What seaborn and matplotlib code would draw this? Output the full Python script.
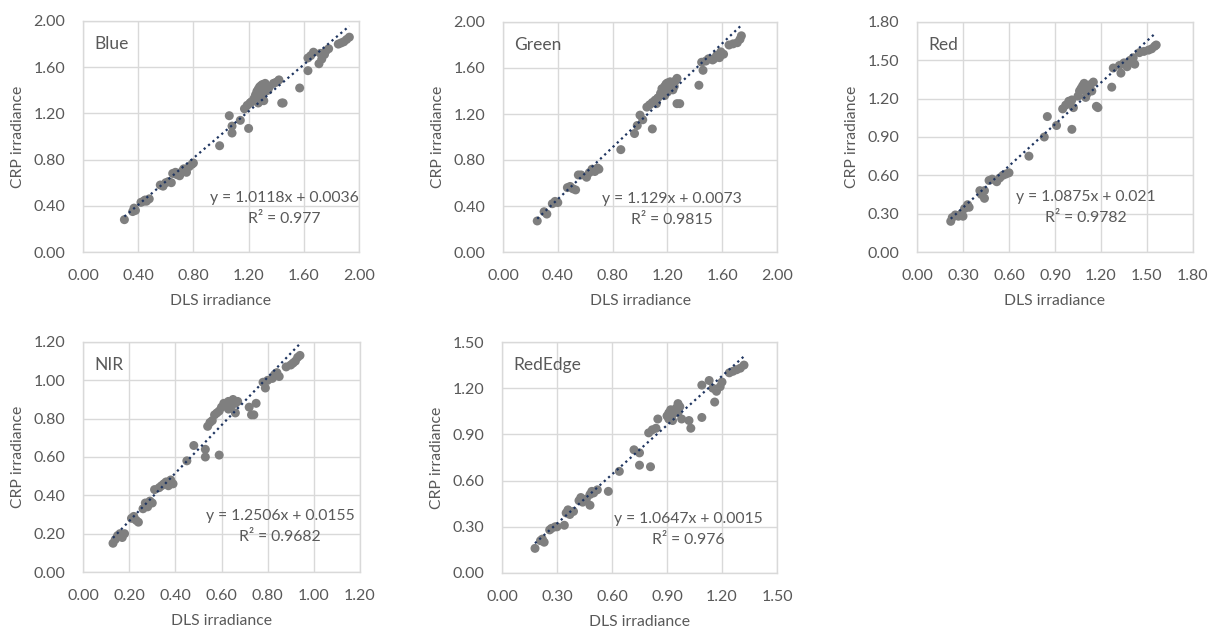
import matplotlib
matplotlib.use("Agg")
import matplotlib.pyplot as plt
import seaborn as sns
import pandas as pd

sns.set_style("white")
plt.rcParams['font.family'] = ['Lato', 'DejaVu Sans']

# ---- data ----
bands = ["Blue", "Green", "Red", "NIR", "RedEdge"]

blue_x = [0.30, 0.36, 0.37, 0.38, 0.42, 0.44, 0.45, 0.46, 0.48,
          0.56, 0.58, 0.60, 0.62, 0.64, 0.65, 0.67, 0.68,
          0.70, 0.72, 0.73, 0.75, 0.77, 0.79, 0.80,
          0.99, 1.06, 1.08, 1.08, 1.14, 1.20,
          1.17, 1.19, 1.21, 1.22, 1.24,
          1.25, 1.26, 1.27, 1.28, 1.29, 1.30, 1.31, 1.32, 1.33, 1.34, 1.35, 1.28, 1.30, 1.32, 1.29, 1.31, 1.27,
          1.38, 1.40, 1.42, 1.44, 1.45,
          1.57, 1.63, 1.63, 1.65, 1.67, 1.71, 1.73, 1.75, 1.76, 1.78, 1.72,
          1.85, 1.87, 1.89, 1.91, 1.93]
blue_y = [0.28, 0.35, 0.38, 0.36, 0.43, 0.44, 0.45, 0.44, 0.46,
          0.58, 0.57, 0.60, 0.61, 0.60, 0.68, 0.69, 0.67,
          0.66, 0.70, 0.72, 0.69, 0.74, 0.76, 0.77,
          0.92, 1.18, 1.09, 1.03, 1.14, 1.07,
          1.24, 1.27, 1.29, 1.30, 1.33,
          1.36, 1.39, 1.41, 1.43, 1.44, 1.45, 1.42, 1.46, 1.44, 1.40, 1.43, 1.38, 1.36, 1.39, 1.31, 1.31, 1.29,
          1.46, 1.47, 1.49, 1.29, 1.29,
          1.42, 1.57, 1.68, 1.70, 1.73, 1.63, 1.67, 1.71, 1.74, 1.76, 1.72,
          1.80, 1.81, 1.82, 1.84, 1.86]

green_x = [0.25, 0.30, 0.32, 0.36, 0.38, 0.40,
           0.47, 0.49, 0.51, 0.53, 0.55, 0.57,
           0.61, 0.63, 0.65, 0.67, 0.69, 0.70,
           0.86, 0.96, 0.98, 1.00, 1.02, 1.09,
           1.05, 1.07, 1.09, 1.11, 1.12, 1.13,
           1.15, 1.16, 1.17, 1.18, 1.19, 1.20, 1.21, 1.22, 1.18, 1.20, 1.22,
           1.25, 1.26, 1.27, 1.24, 1.27, 1.29,
           1.43, 1.46, 1.45, 1.48, 1.50, 1.53,
           1.54, 1.56, 1.58, 1.59, 1.61,
           1.65, 1.68, 1.71, 1.73, 1.74]
green_y = [0.27, 0.35, 0.33, 0.42, 0.44, 0.43,
           0.56, 0.57, 0.55, 0.54, 0.67, 0.67,
           0.65, 0.69, 0.72, 0.70, 0.73, 0.72,
           0.89, 1.03, 1.10, 1.19, 1.15, 1.07,
           1.26, 1.28, 1.30, 1.32, 1.29, 1.34,
           1.38, 1.42, 1.40, 1.44, 1.46, 1.47, 1.45, 1.43, 1.36, 1.39, 1.48,
           1.44, 1.49, 1.51, 1.41, 1.29, 1.29,
           1.45, 1.58, 1.65, 1.66, 1.68, 1.67,
           1.68, 1.71, 1.69, 1.74, 1.72,
           1.80, 1.81, 1.82, 1.85, 1.88]

red_x = [0.22, 0.23, 0.25, 0.27, 0.29, 0.30, 0.31, 0.33, 0.34,
         0.41, 0.42, 0.44, 0.44, 0.47, 0.49,
         0.52, 0.54, 0.56, 0.58, 0.60,
         0.73, 0.83, 0.85, 0.91,
         0.95, 0.97, 0.99, 1.01, 1.02, 1.01,
         1.05, 1.06, 1.07, 1.08, 1.09, 1.10, 1.11, 1.12, 1.13, 1.15, 1.14, 1.10,
         1.17, 1.18, 1.27, 1.28, 1.33,
         1.32, 1.35, 1.37, 1.39, 1.41, 1.42,
         1.45, 1.48, 1.51, 1.53, 1.55, 1.56]
red_y = [0.24, 0.27, 0.29, 0.28, 0.30, 0.28, 0.34, 0.37, 0.35,
         0.48, 0.45, 0.42, 0.48, 0.56, 0.57,
         0.55, 0.58, 0.60, 0.61, 0.62,
         0.75, 0.90, 1.06, 0.99,
         1.12, 1.15, 1.18, 1.19, 1.13, 0.96,
         1.22, 1.26, 1.28, 1.30, 1.32, 1.27, 1.24, 1.29, 1.31, 1.33, 1.26, 1.21,
         1.14, 1.13, 1.29, 1.44, 1.40,
         1.46, 1.48, 1.45, 1.50, 1.52, 1.47,
         1.56, 1.57, 1.58, 1.59, 1.61, 1.62]

nir_x = [0.13, 0.14, 0.15, 0.16, 0.17, 0.18,
         0.21, 0.22, 0.23, 0.24,
         0.26, 0.27, 0.28, 0.29, 0.30,
         0.31, 0.33, 0.34, 0.35, 0.36, 0.37, 0.38, 0.39,
         0.45, 0.48, 0.53, 0.53, 0.59,
         0.54, 0.55, 0.56, 0.57, 0.58, 0.59,
         0.60, 0.61, 0.62, 0.63, 0.64, 0.65, 0.66, 0.67, 0.63, 0.66,
         0.72, 0.73, 0.74, 0.75,
         0.79, 0.78, 0.80, 0.82, 0.83, 0.84, 0.85,
         0.88, 0.90, 0.91, 0.92, 0.93, 0.94]
nir_y = [0.15, 0.17, 0.19, 0.20, 0.18, 0.20,
         0.28, 0.29, 0.27, 0.26,
         0.33, 0.36, 0.34, 0.37, 0.36,
         0.43, 0.44, 0.45, 0.46, 0.47, 0.45, 0.48, 0.46,
         0.58, 0.66, 0.64, 0.60, 0.61,
         0.76, 0.78, 0.79, 0.82, 0.83, 0.84,
         0.86, 0.88, 0.87, 0.89, 0.86, 0.90, 0.88, 0.89, 0.85, 0.83,
         0.86, 0.82, 0.82, 0.88,
         0.96, 0.99, 1.00, 1.01, 1.03, 1.04, 1.02,
         1.07, 1.08, 1.09, 1.10, 1.12, 1.13]

rededge_x = [0.18, 0.21, 0.22, 0.23, 0.26, 0.27, 0.29, 0.30, 0.34,
             0.35, 0.36, 0.37, 0.39,
             0.42, 0.43, 0.44, 0.46, 0.48,
             0.48, 0.49, 0.50, 0.52, 0.58,
             0.64, 0.72, 0.75, 0.75, 0.81,
             0.80, 0.82, 0.84, 0.85,
             0.90, 0.91, 0.92, 0.93, 0.94, 0.95, 0.96, 0.97, 0.93, 0.96, 0.98, 0.91,
             1.02, 1.03, 1.09, 1.09, 1.13,
             1.15, 1.17, 1.19, 1.16, 1.20,
             1.24, 1.26, 1.28, 1.30, 1.32]
rededge_y = [0.16, 0.21, 0.22, 0.20, 0.28, 0.29, 0.30, 0.30, 0.31,
             0.39, 0.41, 0.38, 0.40,
             0.47, 0.49, 0.46, 0.48, 0.44,
             0.51, 0.53, 0.52, 0.54, 0.53,
             0.66, 0.80, 0.78, 0.70, 0.69,
             0.91, 0.93, 0.94, 1.00,
             1.02, 1.04, 1.06, 1.03, 1.05, 1.07, 1.04, 1.08, 0.99, 1.10, 1.00, 1.00,
             0.99, 0.94, 1.01, 1.22, 1.25,
             1.20, 1.18, 1.21, 1.11, 1.24,
             1.30, 1.31, 1.32, 1.33, 1.35]

slopes = [1.0118, 1.129, 1.0875, 1.2506, 1.0647]
intercepts = [0.0036, 0.0073, 0.021, 0.0155, 0.0015]
r2_values = ["0.977", "0.9815", "0.9782", "0.9682", "0.976"]
eq_labels = ["y = 1.0118x + 0.0036", "y = 1.129x + 0.0073", "y = 1.0875x + 0.021",
             "y = 1.2506x + 0.0155", "y = 1.0647x + 0.0015"]
axis_max = [2.0, 2.0, 1.8, 1.2, 1.5]
axis_step = [0.4, 0.4, 0.3, 0.2, 0.3]

xs = [blue_x, green_x, red_x, nir_x, rededge_x]
ys = [blue_y, green_y, red_y, nir_y, rededge_y]

# ---- layout ----
W, H = 1214, 631
fig = plt.figure(figsize=(W / 100, H / 100), dpi=100)

# axes boxes in pixels: left, top, right, bottom
boxes = [(83, 21, 359, 252), (503, 22, 777, 252), (917, 22, 1193, 252),
         (83, 342, 360, 572), (502, 342, 777, 573)]
eq_pos = [(0.729, 0.234), (0.617, 0.229), (0.613, 0.240), (0.712, 0.243), (0.677, 0.235)]

grey_txt = "#595959"
grid_c = "#d9d9d9"

for i, band in enumerate(bands):
    l, t, r, b = boxes[i]
    ax = fig.add_axes([l / W, 1 - b / H, (r - l) / W, (b - t) / H])
    df = pd.DataFrame({"x": xs[i], "y": ys[i]})
    sns.scatterplot(data=df, x="x", y="y", ax=ax, color="#7f7f7f",
                    s=42, edgecolor="none", zorder=3)

    # linear trendline across the data range
    x0, x1 = min(xs[i]), max(xs[i])
    tx = [x0, x1]
    ty = [slopes[i] * v + intercepts[i] for v in tx]
    ax.plot(tx, ty, linestyle=(0, (1, 1.6)), color="#1f3560", lw=1.6, zorder=4)

    m, st = axis_max[i], axis_step[i]
    ticks = [round(k * st, 2) for k in range(int(round(m / st)) + 1)]
    ax.set_xlim(0, m)
    ax.set_ylim(0, m)
    ax.set_xticks(ticks)
    ax.set_yticks(ticks)
    ax.set_xticklabels([f"{v:.2f}" for v in ticks])
    ax.set_yticklabels([f"{v:.2f}" for v in ticks])
    ax.tick_params(length=0, labelsize=11.5, labelcolor=grey_txt)
    ax.tick_params(axis="x", pad=12)
    ax.tick_params(axis="y", pad=13)
    ax.grid(True, color=grid_c, lw=1)
    ax.set_axisbelow(True)
    for sp in ax.spines.values():
        sp.set_color(grid_c)
        sp.set_linewidth(1)

    ax.set_xlabel("DLS irradiance", fontsize=11.3, color=grey_txt, labelpad=8)
    ax.set_ylabel("CRP irradiance", fontsize=11.3, color=grey_txt, labelpad=6)

    ax.text(0.04, 0.90, band, transform=ax.transAxes, fontsize=12.5,
            color=grey_txt, ha="left", va="center")
    ex, ey = eq_pos[i]
    ax.text(ex, ey, eq_labels[i], transform=ax.transAxes, fontsize=11.3,
            color=grey_txt, ha="center", va="center")
    ax.text(ex, ey - 0.09, "R² = " + r2_values[i], transform=ax.transAxes,
            fontsize=11.3, color=grey_txt, ha="center", va="center")

fig.savefig("out.png", dpi=100, facecolor="white")
